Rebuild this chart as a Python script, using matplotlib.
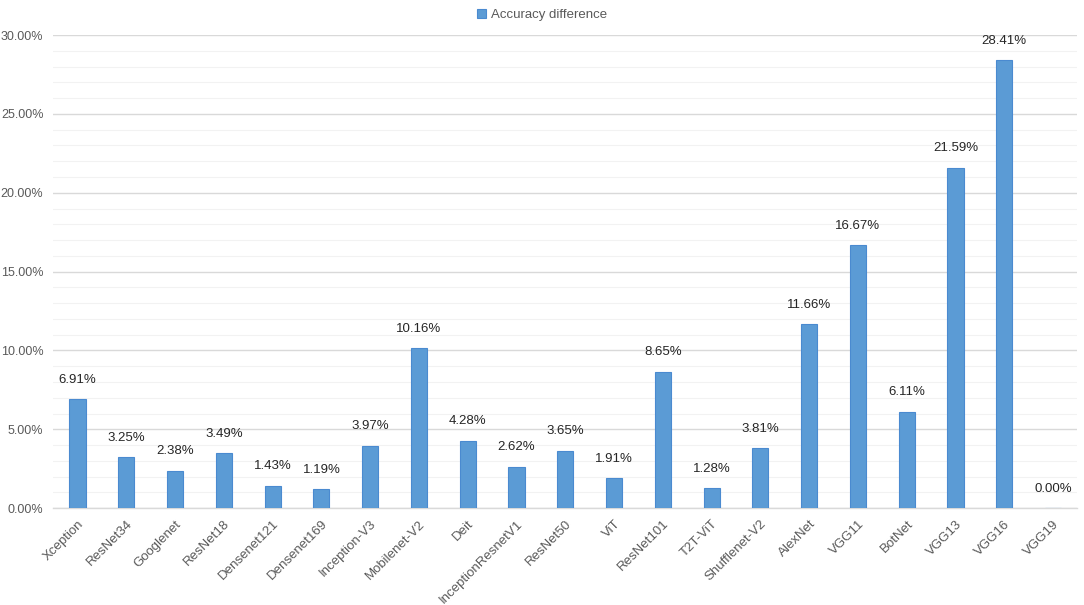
import matplotlib
matplotlib.use("Agg")
import matplotlib.pyplot as plt
from matplotlib.ticker import FuncFormatter, MultipleLocator
import numpy as np

models = ["Xception", "ResNet34", "Googlenet", "ResNet18", "Densenet121", "Densenet169",
          "Inception-V3", "Mobilenet-V2", "Deit", "InceptionResnetV1", "ResNet50", "ViT",
          "ResNet101", "T2T-ViT", "Shufflenet-V2", "AlexNet", "VGG11", "BotNet", "VGG13",
          "VGG16", "VGG19"]
acc_diff = [6.91, 3.25, 2.38, 3.49, 1.43, 1.19, 3.97, 10.16, 4.28, 2.62, 3.65, 1.91,
            8.65, 1.28, 3.81, 11.66, 16.67, 6.11, 21.59, 28.41, 0.00]

plt.rcParams['font.family'] = ['Liberation Sans', 'DejaVu Sans']

fig = plt.figure(figsize=(10.84, 6.05), dpi=100)
ax = fig.add_axes([0.049, 0.160, 0.945, 0.782])

x = np.arange(len(models))
bars = ax.bar(x, acc_diff, width=0.33, color="#5B9BD5", edgecolor="#4A8AD0",
              linewidth=0.8, label="Accuracy difference", zorder=3)

for xi, v in zip(x, acc_diff):
    ax.text(xi, v + 0.85, f"{v:.2f}%", ha="center", va="bottom", fontsize=9.5, color="#262626")

ax.set_xlim(-0.5, len(models) - 0.5)
ax.set_ylim(0, 30)
ax.yaxis.set_major_locator(MultipleLocator(5))
ax.yaxis.set_minor_locator(MultipleLocator(1))
ax.yaxis.set_major_formatter(FuncFormatter(lambda v, p: f"{v:.2f}%"))
ax.grid(axis="y", which="major", color="#D9D9D9", linewidth=1.0, zorder=0)
ax.grid(axis="y", which="minor", color="#F2F2F2", linewidth=0.8, zorder=0)
ax.set_axisbelow(True)

for s in ["top", "right", "left"]:
    ax.spines[s].set_visible(False)
ax.spines["bottom"].set_color("#D9D9D9")
ax.spines["bottom"].set_linewidth(1.0)

ax.set_xticks(x)
ax.set_xticklabels(models, rotation=45, ha="right", rotation_mode="anchor",
                   fontsize=9.5, color="#595959")
ax.tick_params(axis="x", length=0, pad=7)
ax.tick_params(axis="y", which="both", length=0, labelsize=9, labelcolor="#595959", pad=7)

fig.legend(handles=[bars], labels=["Accuracy difference"], loc="upper center",
           bbox_to_anchor=(0.5, 1.005), frameon=False, fontsize=9.5, handlelength=0.7,
           handleheight=0.7, handletextpad=0.4, labelcolor="#595959")

fig.savefig("out.png", dpi=100)
